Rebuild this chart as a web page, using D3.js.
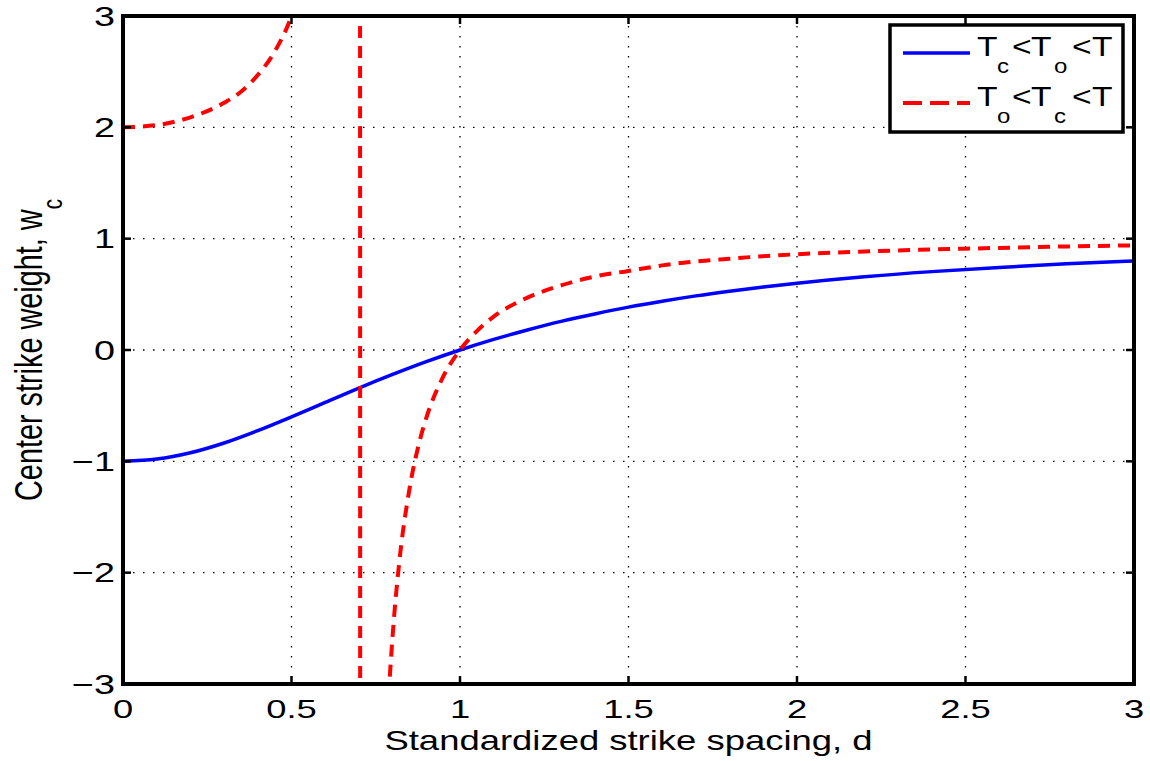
<!DOCTYPE html>
<html>
<head>
<meta charset="utf-8">
<script src="https://cdn.jsdelivr.net/npm/d3@7"></script>
<style>
body { margin: 0; background: #fff; }
text { font-family: 'Liberation Sans', Arial, sans-serif; fill: #000; }
</style>
</head>
<body>
<svg id="chart"></svg>
<script>
// ticks
const xTicks = [0, 0.5, 1, 1.5, 2, 2.5, 3];
const xTickLabels = ['0', '0.5', '1', '1.5', '2', '2.5', '3'];
const yTicks = [-3, -2, -1, 0, 1, 2, 3];
const yTickLabels = ['\u22123', '\u22122', '\u22121', '0', '1', '2', '3'];

// Tc < To < T  (solid blue)
const blueD = [0, 0.1, 0.2, 0.3, 0.4, 0.5, 0.6, 0.7, 0.8, 0.9, 1.0, 1.1, 1.2, 1.3, 1.4, 1.5,
               1.6, 1.7, 1.8, 1.9, 2.0, 2.2, 2.4, 2.6, 2.8, 3.0];
const blueW = [-1, -0.98, -0.923, -0.835, -0.724, -0.6, -0.471, -0.342, -0.22, -0.105, 0,
               0.095, 0.18, 0.257, 0.324, 0.385, 0.438, 0.486, 0.528, 0.566, 0.6,
               0.658, 0.704, 0.742, 0.774, 0.8];

// To < Tc < T  (dashed red), blows up near d = 0.7
const redD = [0, 0.1, 0.2, 0.3, 0.35, 0.4, 0.45, 0.5, 0.55, 0.6, 0.65, 0.7, 0.71, 0.75,
              0.79, 0.8, 0.82, 0.85, 0.88, 0.9, 0.95, 1.0, 1.05, 1.1, 1.2, 1.3, 1.4, 1.5,
              1.6, 1.8, 2.0, 2.2, 2.5, 2.8, 3.0];
const redW = [2.0, 2.02, 2.09, 2.22, 2.32, 2.47, 2.68, 3.0, 3.53, 4.57, 7.45, 51, -121, -7.0,
              -3.03, -2.57, -1.90, -1.25, -0.82, -0.61, -0.24, 0, 0.17, 0.30, 0.47, 0.58, 0.66, 0.71,
              0.76, 0.82, 0.86, 0.885, 0.91, 0.93, 0.94];

const legendLabels = [
    [['T', false], ['c', true], ['<', false], ['T', false], ['o', true], ['<', false], ['T', false]],
    [['T', false], ['o', true], ['<', false], ['T', false], ['c', true], ['<', false], ['T', false]]
];

class WeightPlot {
    constructor(config) {
        this.config = {
            parent: config.parent,
            width: config.width || 1150,
            height: config.height || 761,
            margin: config.margin || {top: 16, right: 16, bottom: 77, left: 123},
            xlabel: config.xlabel || '',
            ylabel: config.ylabel || ''
        };
        this.init();
    }

    init() {
        let self = this;

        self.svg = d3.select(self.config.parent)
            .attr('width', self.config.width)
            .attr('height', self.config.height);

        self.inner_width = self.config.width - self.config.margin.left - self.config.margin.right;
        self.inner_height = self.config.height - self.config.margin.top - self.config.margin.bottom;

        self.chart = self.svg.append('g')
            .attr('transform', `translate(${self.config.margin.left}, ${self.config.margin.top})`);

        self.xscale = d3.scaleLinear()
            .domain([0, 3])
            .range([0, self.inner_width]);

        self.yscale = d3.scaleLinear()
            .domain([-3, 3])
            .range([self.inner_height, 0]);

        self.svg.append('defs').append('clipPath')
            .attr('id', 'plot-clip')
            .append('rect')
            .attr('width', self.inner_width)
            .attr('height', self.inner_height);

        self.line = d3.line()
            .x(d => self.xscale(d[0]))
            .y(d => self.yscale(d[1]))
            .curve(d3.curveMonotoneX);
    }

    render() {
        let self = this;
        const w = self.inner_width, h = self.inner_height;
        const stretch = 1.4;

        // dotted grid
        const grid_dash = '1.5,8.5';
        self.chart.selectAll('.xgrid')
            .data(xTicks.slice(1, -1))
            .enter().append('line')
            .attr('x1', d => self.xscale(d)).attr('x2', d => self.xscale(d))
            .attr('y1', 0).attr('y2', h)
            .attr('stroke', '#000').attr('stroke-width', 1.3)
            .attr('stroke-dasharray', grid_dash);
        self.chart.selectAll('.ygrid')
            .data(yTicks.slice(1, -1))
            .enter().append('line')
            .attr('y1', d => self.yscale(d)).attr('y2', d => self.yscale(d))
            .attr('x1', 0).attr('x2', w)
            .attr('stroke', '#000').attr('stroke-width', 1.3)
            .attr('stroke-dasharray', grid_dash);

        // curves
        const plot = self.chart.append('g').attr('clip-path', 'url(#plot-clip)');
        plot.append('path')
            .attr('d', self.line(d3.zip(blueD, blueW)))
            .attr('fill', 'none')
            .attr('stroke', '#0000ff')
            .attr('stroke-width', 3.5);
        plot.append('path')
            .attr('d', self.line(d3.zip(redD, redW)))
            .attr('fill', 'none')
            .attr('stroke', '#ff0000')
            .attr('stroke-width', 4)
            .attr('stroke-dasharray', '12,8');

        // inward ticks on all four sides
        const tick_len = 8;
        const ticks = self.chart.append('g')
            .attr('stroke', '#000').attr('stroke-width', 2.5);
        xTicks.forEach(t => {
            const x = self.xscale(t);
            ticks.append('line').attr('x1', x).attr('x2', x).attr('y1', h).attr('y2', h - tick_len);
            ticks.append('line').attr('x1', x).attr('x2', x).attr('y1', 0).attr('y2', tick_len);
        });
        yTicks.forEach(t => {
            const y = self.yscale(t);
            ticks.append('line').attr('y1', y).attr('y2', y).attr('x1', 0).attr('x2', tick_len);
            ticks.append('line').attr('y1', y).attr('y2', y).attr('x1', w).attr('x2', w - tick_len);
        });

        // box
        self.chart.append('rect')
            .attr('width', w).attr('height', h)
            .attr('fill', 'none')
            .attr('stroke', '#000').attr('stroke-width', 4);

        // tick labels
        self.chart.selectAll('.xlab')
            .data(xTicks)
            .enter().append('text')
            .attr('transform', d => `translate(${self.xscale(d)}, ${h + 34}) scale(${stretch}, 1)`)
            .attr('text-anchor', 'middle')
            .style('font-size', '26px')
            .text((d, i) => xTickLabels[i]);
        self.chart.selectAll('.ylab')
            .data(yTicks)
            .enter().append('text')
            .attr('transform', d => `translate(-8, ${self.yscale(d) + 9.5}) scale(${stretch}, 1)`)
            .attr('text-anchor', 'end')
            .style('font-size', '27px')
            .text((d, i) => yTickLabels[i]);

        // axis titles
        self.svg.append('text')
            .attr('transform', `translate(${self.config.margin.left + w / 2}, 750) scale(1.35, 1)`)
            .attr('text-anchor', 'middle')
            .style('font-size', '27px')
            .text(self.config.xlabel);

        const ytitle = self.svg.append('text')
            .attr('transform', `translate(42, 350) rotate(-90) scale(1.03, 1.4)`)
            .attr('text-anchor', 'middle')
            .style('font-size', '28px');
        ytitle.append('tspan').text(self.config.ylabel);
        ytitle.append('tspan').attr('dy', 14).style('font-size', '20px').text('c');

        // legend
        const lg = self.svg.append('g');
        lg.append('rect')
            .attr('x', 890).attr('y', 25)
            .attr('width', 233).attr('height', 107)
            .attr('fill', '#fff')
            .attr('stroke', '#000').attr('stroke-width', 3.5);
        const legend_rows = [
            {y: 53, color: '#0000ff', dash: null, width: 3.5},
            {y: 103, color: '#ff0000', dash: '19,8', width: 4}
        ];
        const piece_pos = [0, 20, 35, 54, 77, 95, 115];
        const leg_stretch = 1.2;
        legend_rows.forEach((r, i) => {
            lg.append('line')
                .attr('x1', 903).attr('x2', 970)
                .attr('y1', r.y).attr('y2', r.y)
                .attr('stroke', r.color)
                .attr('stroke-width', r.width)
                .attr('stroke-dasharray', r.dash);
            const t = lg.append('text')
                .attr('transform', `translate(977, ${r.y + 3}) scale(${leg_stretch}, 1)`)
                .style('font-size', '28px');
            legendLabels[i].forEach((p, j) => {
                t.append('tspan')
                    .attr('x', piece_pos[j] / leg_stretch)
                    .attr('y', p[1] ? 17 : 0)
                    .style('font-size', p[1] ? '20px' : '28px')
                    .text(p[0]);
            });
        });
    }
}

const plot = new WeightPlot({
    parent: '#chart',
    xlabel: 'Standardized strike spacing, d',
    ylabel: 'Center strike weight, w'
});
plot.render();
</script>
</body>
</html>
